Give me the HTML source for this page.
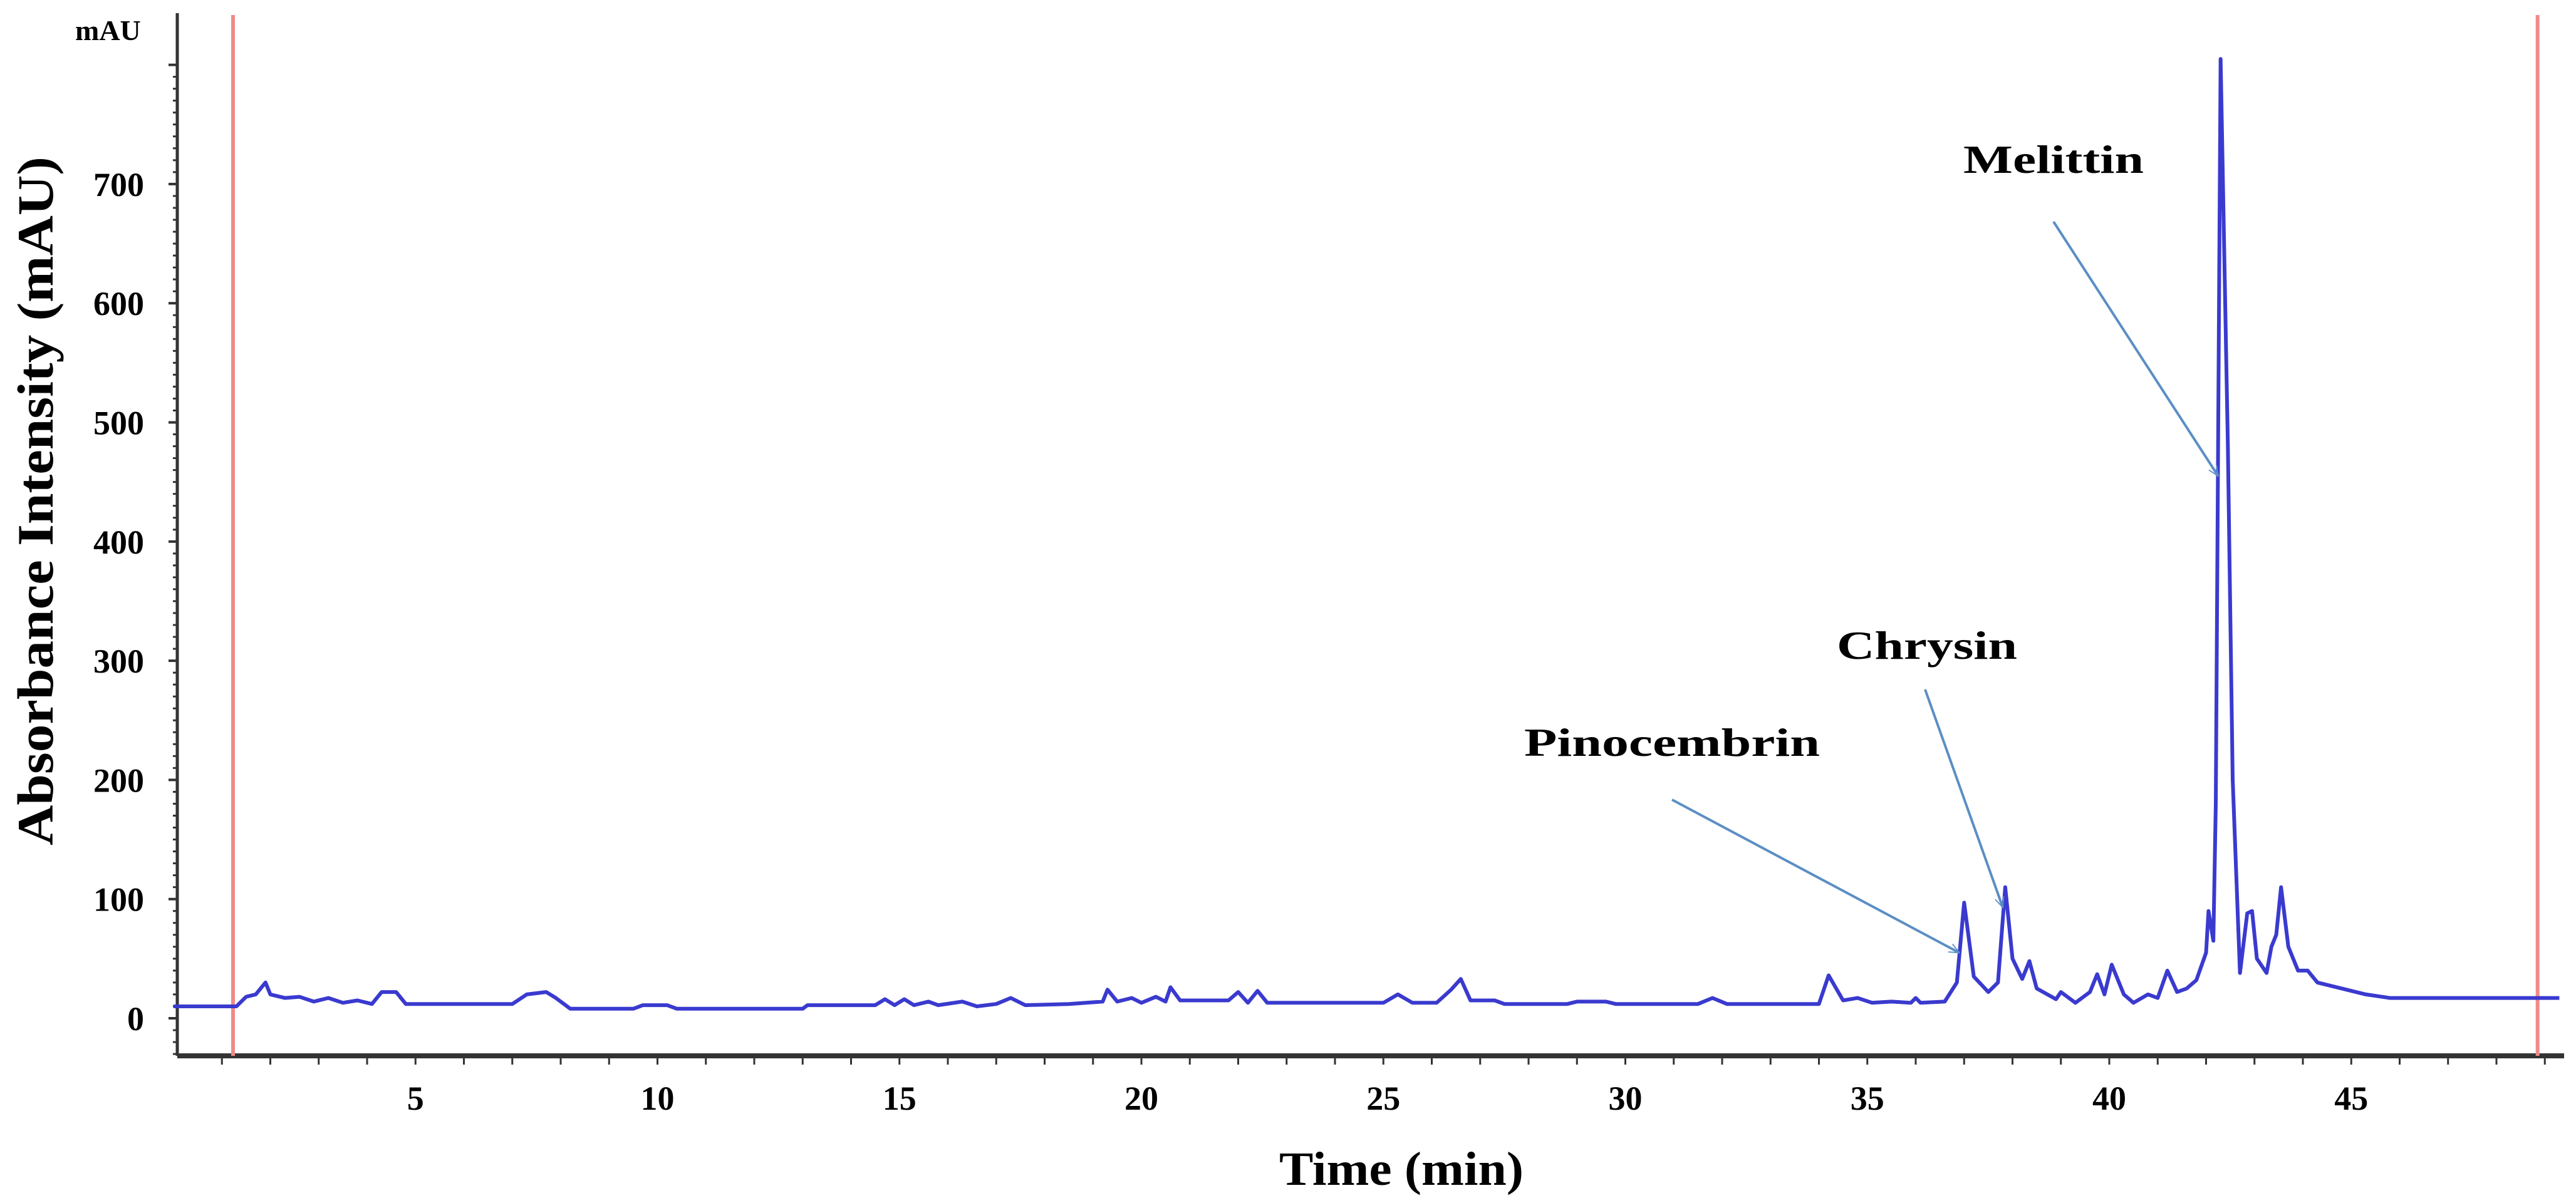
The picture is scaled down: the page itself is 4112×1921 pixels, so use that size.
<!DOCTYPE html>
<html><head><meta charset="utf-8"><style>
html,body{margin:0;padding:0;background:#fff;}
svg{display:block;font-family:"Liberation Serif",serif;font-weight:bold;}
</style></head><body>
<svg id="chart" width="4112" height="1921" viewBox="0 0 4112 1921" xmlns="http://www.w3.org/2000/svg">
<defs>
<marker id="ah" viewBox="0 0 20 20" refX="18" refY="10" markerWidth="18" markerHeight="18" markerUnits="userSpaceOnUse" orient="auto"><path d="M0,2 L18,10 L0,18" fill="none" stroke="#5b8ec4" stroke-width="2"/></marker>
</defs>
<g id="axes"></g>
<g id="marks"></g>
<g id="notes"></g>
</svg>
<script>
const times=[0,1.3,1.5,1.7,1.9,2.0,2.3,2.6,2.9,3.2,3.5,3.8,4.1,4.3,4.6,4.8,7.0,7.3,7.7,7.9,8.2,9.5,9.7,10.2,10.4,13.0,13.1,14.5,14.7,14.9,15.1,15.3,15.6,15.8,16.3,16.6,17.0,17.3,17.6,18.5,19.2,19.3,19.5,19.8,20.0,20.3,20.5,20.6,20.8,21.8,22.0,22.2,22.4,22.6,25.0,25.3,25.6,26.1,26.4,26.6,26.8,27.3,27.5,28.8,29.0,29.6,29.8,31.5,31.8,32.1,34.0,34.2,34.5,34.8,35.1,35.5,35.9,36.0,36.1,36.6,36.85,37.0,37.2,37.5,37.7,37.85,38.0,38.2,38.35,38.5,38.9,39.0,39.3,39.6,39.75,39.9,40.05,40.3,40.5,40.8,41.0,41.2,41.4,41.6,41.8,42.0,42.05,42.15,42.2,42.3,42.45,42.55,42.7,42.85,42.95,43.05,43.25,43.35,43.45,43.55,43.7,43.9,44.1,44.3,44.8,45.3,45.8,49.3];
const absorbance=[10,10,18,20,30,20,17,18,14,17,13,15,12,22,22,12,12,20,22,17,8,8,11,11,8,8,11,11,16,11,16,11,14,11,14,10,12,17,11,12,14,24,14,17,13,18,14,26,15,15,22,13,23,13,13,20,13,13,24,33,15,15,12,12,14,14,12,12,17,12,12,36,15,17,13,14,13,17,13,14,30,97,35,22,30,110,50,33,48,25,16,22,13,22,37,20,45,20,13,20,17,40,22,25,32,55,90,65,180,805,480,200,38,88,90,50,38,60,70,110,60,40,40,30,25,20,17,17];
const xTickLabels=[5,10,15,20,25,30,35,40,45];
const yTickLabels=[0,100,200,300,400,500,600,700];
const markerTimes=[1.23,48.85];
const annotations=[
 {name:'melittin',text:'Melittin',t:42.25,v:455,tx:3278,ty:354,lx:3134,ly:276,len:288},
 {name:'chrysin',text:'Chrysin',t:37.8,v:93,tx:3073,ty:1101,lx:2932,ly:1052,len:288},
 {name:'pinocembrin',text:'Pinocembrin',t:36.9,v:55,tx:2669,ty:1277,lx:2433,ly:1207,len:472}
];
const X0=283,X1=4093,YB=1686,YT=21;
function xs(t){return 277+77.25*t;}
function ys(v){return 1626-v*1.903;}
const NS='http://www.w3.org/2000/svg';
function mk(tag,attrs,parent){const e=document.createElementNS(NS,tag);for(const k in attrs)e.setAttribute(k,attrs[k]);parent.appendChild(e);return e;}
const ax=document.getElementById('axes'),mg=document.getElementById('marks'),ng=document.getElementById('notes');
let l=mk('line',{x1:X0,y1:YT,x2:X0,y2:YB,stroke:'#333','stroke-width':5},ax);


l=mk('line',{x1:X0,y1:YB,x2:X1,y2:YB,stroke:'#333','stroke-width':8},ax);


for(let v=-30;v<=800;v+=10){const y=ys(v);if(y<YT)continue;const major=v%100===0;
 const t=mk('line',{x1:X0-(major?14:7),y1:y,x2:X0,y2:y,stroke:'#333','stroke-width':major?4:3},ax);
 
 }
for(let m=1;m<=49;m++){const x=xs(m);
 const t=mk('line',{x1:x,y1:YB,x2:x,y2:YB+14,stroke:'#333','stroke-width':3},ax);
 
 }
yTickLabels.forEach(v=>{const t=mk('text',{x:230,y:ys(v)+19,'text-anchor':'end','font-size':54},ax);t.textContent=v;
 
 });
xTickLabels.forEach(v=>{const t=mk('text',{x:xs(v),y:1772,'text-anchor':'middle','font-size':54},ax);t.textContent=v;
 
 });
let u=mk('text',{x:120,y:64,'font-size':46},ax);u.textContent='mAU';


let yt=mk('text',{x:0,y:0,'font-size':82,'text-anchor':'middle',textLength:1100,lengthAdjust:'spacingAndGlyphs',transform:'translate(84,800) rotate(-90)'},ax);
yt.textContent='Absorbance Intensity (mAU)';


let xt=mk('text',{x:2237,y:1892,'font-size':76,'text-anchor':'middle',textLength:390,lengthAdjust:'spacingAndGlyphs'},ax);
xt.textContent='Time (min)';


markerTimes.forEach(t=>{const r=mk('line',{x1:xs(t),y1:24,x2:xs(t),y2:YB,stroke:'#f08a8a','stroke-width':6},mg);
 
 });
const pts=times.map((t,i)=>xs(t).toFixed(1)+','+ys(absorbance[i]).toFixed(1)).join(' ');
const p=mk('polyline',{points:pts,fill:'none',stroke:'#3a3acf','stroke-width':6,'stroke-linejoin':'round'},mg);


annotations.forEach(a=>{
 const t=mk('text',{x:a.lx,y:a.ly,'font-size':64,textLength:a.len,lengthAdjust:'spacingAndGlyphs'},ng);t.textContent=a.text;
 
 
 const ar=mk('line',{x1:a.tx,y1:a.ty,x2:xs(a.t),y2:ys(a.v),stroke:'#5b8ec4','stroke-width':4,'marker-end':'url(#ah)'},ng);
 
 
});
</script>
</body></html>
